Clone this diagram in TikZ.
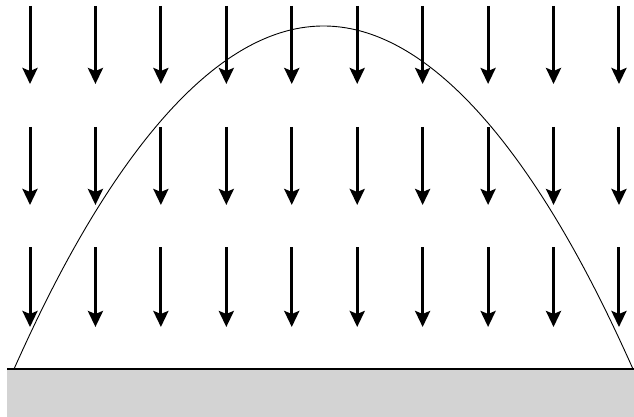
\documentclass[tikz,border=0pt]{standalone}
\usetikzlibrary{arrows.meta}
\definecolor{groundgray}{HTML}{D3D3D3}
\tikzset{
  forcearrow/.style={line width=3pt, -{Stealth[length=16pt, width=15pt, inset=3pt]}},
  groundfill/.style={fill=groundgray, draw=none},
  groundline/.style={line width=1.5pt, draw=black},
  trajectory/.style={line width=0.9pt, draw=black}
}
\begin{document}
\begin{tikzpicture}[x=1pt, y=-1pt]
  \useasboundingbox (0,0) rectangle (634,417);
  % ground
  \fill[groundfill] (7,369) rectangle (634,417);
  \draw[groundline] (7,369) -- (634,369);
  % trajectory
  \draw[trajectory] (14,369) parabola bend (323.5,26) (633,369);
  % field arrows
  \foreach \row/\ys/\ye in {0/6/84, 1/127/205, 2/247/327} {
    \foreach \k in {0,...,9} {
      \pgfmathsetmacro{\xx}{30+65.44*\k}
      \draw[forcearrow] (\xx,\ys) -- (\xx,\ye);
    }
  }
\end{tikzpicture}
\end{document}
